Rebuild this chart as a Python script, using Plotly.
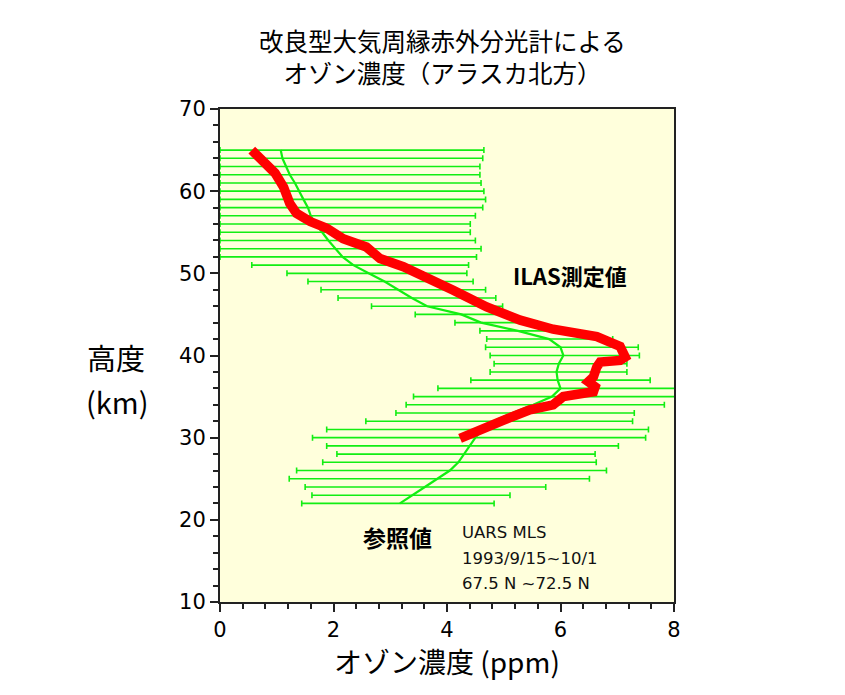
import plotly.graph_objects as go

# ---- data ----
# UARS MLS reference profile (green) : altitude (km), centre, left end, right end of error bar (ppm)
mls_km = [22, 23, 24, 25, 26, 27, 28, 29, 30, 31, 32, 33, 34, 35, 36, 37, 38, 39, 40, 41, 42, 43,
          44, 45, 46, 47, 48, 49, 50, 51, 52, 53, 54, 55, 56, 57, 58, 59, 60, 61, 62, 63, 64, 65]
mls_ppm = [3.17, 3.40, 3.61, 3.83, 4.05, 4.20, 4.30, 4.40, 4.50, 4.62, 4.82, 5.15, 5.52, 5.85, 6.00,
           5.95, 5.93, 5.97, 6.05, 6.00, 5.80, 5.25, 4.60, 4.25, 3.65, 3.38, 3.13, 2.90, 2.62, 2.35,
           2.16, 2.03, 1.91, 1.80, 1.69, 1.60, 1.55, 1.47, 1.40, 1.32, 1.23, 1.16, 1.10, 1.07]
mls_low = [1.44, 1.62, 1.50, 1.22, 1.35, 1.81, 2.06, 1.88, 1.63, 1.88, 2.57, 3.10, 3.28, 3.41, 3.84,
           4.42, 4.76, 4.83, 4.76, 4.68, 4.70, 4.58, 4.14, 3.44, 2.67, 2.08, 1.78, 1.55, 1.18, 0.56,
           0, 0, 0, 0, 0, 0, 0, 0, 0, 0, 0, 0, 0, 0]
mls_high = [4.83, 5.11, 5.74, 6.51, 6.81, 6.63, 6.61, 7.02, 7.50, 7.55, 7.27, 7.30, 7.83, 8.36, 8.23,
            7.58, 7.17, 7.17, 7.39, 7.37, 6.92, 5.95, 5.40, 5.05, 4.98, 4.86, 4.68, 4.46, 4.35, 4.38,
            4.52, 4.60, 4.50, 4.41, 4.41, 4.50, 4.63, 4.68, 4.65, 4.60, 4.58, 4.58, 4.63, 4.65]

# ILAS measured profile (red)
ilas_ppm = [0.56, 0.76, 0.97, 1.12, 1.23, 1.35, 1.59, 1.88, 2.17, 2.58, 2.82, 3.23, 3.64, 4.11, 4.70,
            5.29, 5.87, 6.64, 7.05, 7.14, 7.05, 6.70, 6.64, 6.58, 6.49, 6.61, 6.58, 6.34, 6.05, 5.87,
            5.46, 4.99, 4.58, 4.23]
ilas_km = [65.0, 63.6, 62.2, 60.5, 58.5, 57.3, 56.3, 55.5, 54.2, 53.2, 51.8, 50.8, 49.6, 47.95, 45.9,
           44.3, 43.2, 42.3, 41.1, 39.8, 39.4, 39.2, 38.6, 37.4, 36.8, 36.2, 35.6, 35.4, 35.0, 34.0,
           33.4, 32.1, 30.9, 29.9]

x_ticks = [0, 2, 4, 6, 8]
y_ticks = [10, 20, 30, 40, 50, 60, 70]

title_lines = ["改良型大気周縁赤外分光計による", "オゾン濃度（アラスカ北方）"]
note_lines = ["UARS MLS", "1993/9/15~10/1", "67.5 N ~72.5 N"]

err_plus = [h - c for h, c in zip(mls_high, mls_ppm)]
err_minus = [c - l for c, l in zip(mls_ppm, mls_low)]

GREEN = "#12ee12"
JP = "Noto Sans CJK JP"
NUM = "DejaVu Sans"

# plot area: 454 x 493 px
PW, PH = 454, 493
L, T, R, B = 212, 101, 171, 93


def px(sx):
    # screen x (reference pixel) -> paper fraction
    return (sx - 220) / PW


def py(sy):
    # screen y (reference pixel) -> paper fraction
    return (602 - sy) / PH


fig = go.Figure()
fig.add_trace(go.Scatter(
    x=mls_ppm, y=mls_km, mode="lines",
    line=dict(color=GREEN, width=2.2),
    error_x=dict(type="data", symmetric=False, array=err_plus, arrayminus=err_minus,
                 color=GREEN, thickness=1.6, width=3),
    cliponaxis=False, showlegend=False, hoverinfo="skip"))
fig.add_trace(go.Scatter(
    x=ilas_ppm, y=ilas_km, mode="lines",
    line=dict(color="#ff0000", width=9.5),
    showlegend=False, hoverinfo="skip"))

fig.update_layout(
    width=L + PW + R, height=T + PH + B,
    margin=dict(l=L, r=R, t=T, b=B),
    paper_bgcolor="white", plot_bgcolor="#ffffdc",
    font=dict(family=JP, color="black"),
    showlegend=False,
)
fig.update_xaxes(
    range=[0, 8], tickvals=x_ticks, ticktext=[str(v) for v in x_ticks],
    ticks="outside", ticklen=8, tickwidth=1.5, tickcolor="#222",
    minor=dict(dtick=0.4, ticks="outside", ticklen=5, tickwidth=1.5, tickcolor="#222"),
    showline=True, mirror=True, linecolor="#222", linewidth=2,
    showgrid=False, zeroline=False,
    tickfont=dict(family=NUM, size=21, color="black"),
)
fig.update_yaxes(
    range=[10, 70], tickvals=y_ticks, ticktext=[str(v) for v in y_ticks],
    ticks="outside", ticklen=8, tickwidth=1.5, tickcolor="#222",
    minor=dict(dtick=2, ticks="outside", ticklen=5, tickwidth=1.5, tickcolor="#222"),
    showline=True, mirror=True, linecolor="#222", linewidth=2,
    showgrid=False, zeroline=False,
    tickfont=dict(family=NUM, size=21, color="black"),
)

# two-line title
fig.add_annotation(text="<br>".join(title_lines), xref="paper", yref="paper",
                   x=px(442), y=py(56), showarrow=False, xanchor="center", yanchor="middle",
                   align="center", font=dict(family=JP, size=24.5, color="black"))

# y-axis title (horizontal, two lines)
fig.add_annotation(text="高度", xref="paper", yref="paper", x=px(116), y=py(357),
                   showarrow=False, xanchor="center", yanchor="middle",
                   font=dict(family=JP, size=29, color="black"))
fig.add_annotation(text="(km)", xref="paper", yref="paper", x=px(117), y=py(401),
                   showarrow=False, xanchor="center", yanchor="middle",
                   font=dict(family=JP, size=29, color="black"))
# x-axis title
fig.add_annotation(text="オゾン濃度 (ppm)", xref="paper", yref="paper", x=px(447), y=py(661),
                   showarrow=False, xanchor="center", yanchor="middle",
                   font=dict(family=JP, size=28, color="black"))

# in-plot labels
fig.add_annotation(text="<b>ILAS測定値</b>", x=6.17, y=49.8, xref="x", yref="y",
                   showarrow=False, xanchor="center", yanchor="middle",
                   font=dict(family=JP, size=22, color="black"))
fig.add_annotation(text="<b>参照値</b>", x=3.12, y=17.9, xref="x", yref="y",
                   showarrow=False, xanchor="center", yanchor="middle",
                   font=dict(family=JP, size=23, color="black"))
for txt, yy in zip(note_lines, [18.4, 15.35, 12.3]):
    fig.add_annotation(text=txt, x=4.23, y=yy, xref="x", yref="y",
                       showarrow=False, xanchor="left", yanchor="middle",
                       font=dict(family=NUM, size=16.5, color="#111"))

fig.write_html("out.html")
